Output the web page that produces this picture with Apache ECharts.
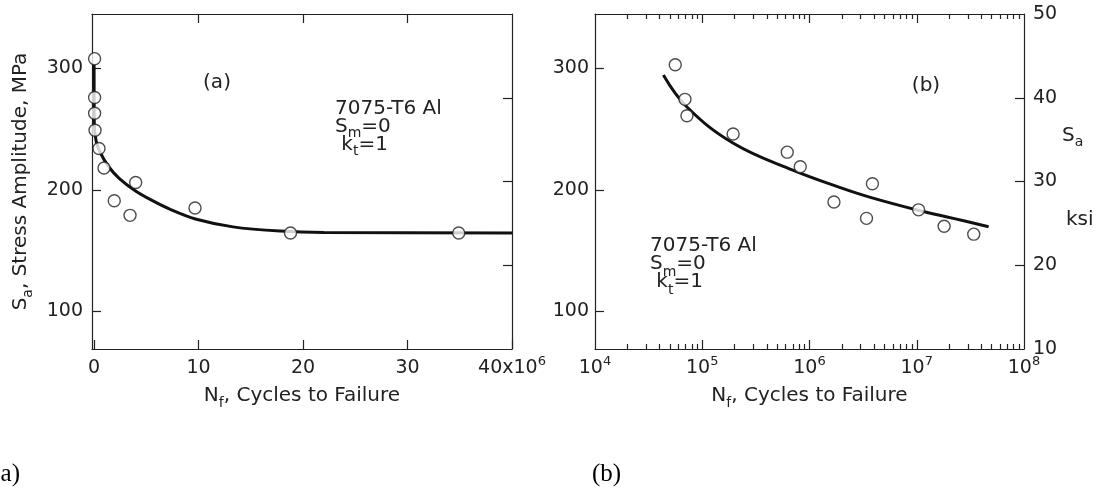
<!DOCTYPE html>
<html>
<head>
<meta charset="utf-8">
<script src="https://cdn.jsdelivr.net/npm/echarts@6.0.0/dist/echarts.min.js"></script>
<style>
  html, body { margin: 0; padding: 0; background: #fff; }
  #chart { width: 1100px; height: 488px; }
</style>
</head>
<body>
<div id="chart"></div>
<script>
// (a) linear N axis, cycles in units of 10^6
var cyclesA = [0.05, 0.05, 0.05, 0.09, 0.47, 0.95, 1.93, 3.44, 3.98, 9.66, 18.8, 34.9];
var stressA = [308, 276, 263, 249, 234, 218, 191, 179, 206, 185, 164.5, 164.5];
var curveAX = [0.0, 0.02, 0.2, 0.6, 1.4, 2.4, 3.9, 5.5, 7.4, 9.7, 13.3, 17.8, 22, 40];
var curveAY = [302.7, 254, 240, 230.5, 219, 209.5, 199.5, 191.5, 183.5, 176, 169.5, 166, 164.8, 164.5];

// (b) log N axis, cycles
var cyclesB = [5.6e4, 6.9e4, 7.2e4, 1.94e5, 6.2e5, 8.2e5, 1.69e6, 3.4e6, 3.86e6, 1.04e7, 1.8e7, 3.4e7];
var stressB = [303, 274.5, 261, 246, 231, 219, 190, 176.5, 205, 183.5, 170, 163.5];
var curveBX = [4.34e4, 7.16e4, 1.95e5, 7.08e5, 1.91e6, 3.63e6, 1.05e7, 2.19e7, 4.68e7];
var curveBY = [294.5, 268.4, 238.3, 216, 202, 194, 183, 176.5, 169.6];

// ticks
var ticksMPa = [100, 200, 300];
var ticksKsi = [10, 20, 30, 40, 50];
var innerKsi = [20, 30, 40];
var ticksLinN = [0, 10, 20, 30, 40];
var innerLinN = [10, 20, 30];
var ticksLogN = [1e4, 1e5, 1e6, 1e7, 1e8];
var innerLogN = [1e5, 1e6, 1e7];
var minorLogN = [2e4, 3e4, 4e4, 5e4, 6e4, 7e4, 8e4, 9e4,
                 2e5, 3e5, 4e5, 5e5, 6e5, 7e5, 8e5, 9e5,
                 2e6, 3e6, 4e6, 5e6, 6e6, 7e6, 8e6, 9e6,
                 2e7, 3e7, 4e7, 5e7, 6e7, 7e7, 8e7, 9e7];

// ksi range 10..50 expressed in MPa
var mpaMin = 10 * 6.895;
var mpaMax = 50 * 6.895;

var FONT = 'DejaVu Sans';
var INK = '#222';

function zip(xs, ys) {
  return xs.map(function (x, i) { return [x, ys[i]]; });
}

var labelRich = {
  n: { fontSize: 19, lineHeight: 19, padding: [4, 0, 0, 0], verticalAlign: 'top', color: INK, fontFamily: FONT },
  sup: { fontSize: 13, lineHeight: 13, verticalAlign: 'top', color: INK, fontFamily: FONT }
};
var nameRich = {
  n: { fontSize: 20, lineHeight: 20, padding: [0, 0, 4, 0], verticalAlign: 'bottom', color: INK, fontFamily: FONT },
  sub: { fontSize: 14, lineHeight: 12, verticalAlign: 'bottom', color: INK, fontFamily: FONT }
};

function annRich(pad) {
  return {
    n: { fontSize: 20, lineHeight: 18, padding: [0, 0, pad, 0], verticalAlign: 'bottom', fill: INK, fontFamily: FONT },
    s: { fontSize: 14, lineHeight: 10, verticalAlign: 'bottom', fill: INK, fontFamily: FONT }
  };
}

var axisLine = { show: true, onZero: false, lineStyle: { color: INK, width: 1.2 } };

function tick(len, vals) {
  return { show: true, inside: true, length: len, customValues: vals, lineStyle: { color: INK, width: 1.2 } };
}

function noLabel() { return { show: false }; }

var myChart = echarts.init(document.getElementById('chart'));

var option = {
  animation: false,
  backgroundColor: '#fff',
  grid: [
    { left: 92, top: 14, width: 420, height: 335, outerBoundsMode: 'none', containLabel: false },
    { left: 595, top: 14, width: 429, height: 335, outerBoundsMode: 'none', containLabel: false }
  ],
  xAxis: [
    {
      gridIndex: 0, type: 'value', position: 'bottom', min: -0.2, max: 40,
      axisLine: axisLine, axisTick: tick(9, ticksLinN), splitLine: { show: false },
      axisLabel: {
        customValues: ticksLinN, margin: 6, rich: labelRich,
        formatter: function (v) { return v === 40 ? '{n|40x10}{sup|6}' : '{n|' + v + '}'; }
      },
      name: '{n|N}{sub|f}{n|, Cycles to Failure}', nameLocation: 'middle', nameGap: 41,
      nameTextStyle: { rich: nameRich }
    },
    {
      gridIndex: 0, type: 'value', position: 'top', min: -0.2, max: 40,
      axisLine: axisLine, axisTick: tick(9, innerLinN), axisLabel: noLabel(), splitLine: { show: false }
    },
    {
      gridIndex: 1, type: 'log', logBase: 10, position: 'bottom', min: 1e4, max: 1e8,
      axisLine: axisLine, axisTick: tick(9, innerLogN), splitLine: { show: false },
      axisLabel: {
        customValues: ticksLogN, margin: 6, rich: labelRich,
        formatter: function (v) { return '{n|10}{sup|' + Math.round(Math.log10(v)) + '}'; }
      },
      name: '{n|N}{sub|f}{n|, Cycles to Failure}', nameLocation: 'middle', nameGap: 41,
      nameTextStyle: { rich: nameRich }
    },
    {
      gridIndex: 1, type: 'log', logBase: 10, position: 'bottom', min: 1e4, max: 1e8,
      axisLine: { show: false }, axisTick: tick(5, minorLogN), axisLabel: noLabel(), splitLine: { show: false }
    },
    {
      gridIndex: 1, type: 'log', logBase: 10, position: 'top', min: 1e4, max: 1e8,
      axisLine: axisLine, axisTick: tick(9, innerLogN), axisLabel: noLabel(), splitLine: { show: false }
    },
    {
      gridIndex: 1, type: 'log', logBase: 10, position: 'top', min: 1e4, max: 1e8,
      axisLine: { show: false }, axisTick: tick(5, minorLogN), axisLabel: noLabel(), splitLine: { show: false }
    }
  ],
  yAxis: [
    {
      gridIndex: 0, type: 'value', position: 'left', min: mpaMin, max: mpaMax,
      axisLine: axisLine, axisTick: tick(9, ticksMPa), splitLine: { show: false },
      axisLabel: { customValues: ticksMPa, margin: 9, fontSize: 19, color: INK, fontFamily: FONT },
      name: '{n|S}{sub|a}{n|, Stress Amplitude, MPa}', nameLocation: 'middle', nameRotate: 90, nameGap: 57,
      nameTextStyle: { rich: nameRich }
    },
    {
      gridIndex: 0, type: 'value', position: 'right', min: 10, max: 50,
      axisLine: axisLine, axisTick: tick(9, innerKsi), axisLabel: noLabel(), splitLine: { show: false }
    },
    {
      gridIndex: 1, type: 'value', position: 'left', min: mpaMin, max: mpaMax,
      axisLine: axisLine, axisTick: tick(9, ticksMPa), splitLine: { show: false },
      axisLabel: { customValues: ticksMPa, margin: 6, fontSize: 19, color: INK, fontFamily: FONT }
    },
    {
      gridIndex: 1, type: 'value', position: 'right', min: 10, max: 50,
      axisLine: axisLine, axisTick: tick(9, innerKsi), splitLine: { show: false },
      axisLabel: { customValues: ticksKsi, margin: 9, fontSize: 19, color: INK, fontFamily: FONT }
    }
  ],
  series: [
    {
      type: 'line', xAxisIndex: 0, yAxisIndex: 0, data: zip(curveAX, curveAY),
      smooth: 0.3, showSymbol: false, symbol: 'none',
      lineStyle: { color: '#111', width: 3 }, silent: true
    },
    {
      type: 'scatter', xAxisIndex: 0, yAxisIndex: 0, data: zip(cyclesA, stressA), z: 3,
      symbol: 'circle', symbolSize: 12,
      itemStyle: { color: '#fff', borderColor: '#222', borderWidth: 1.4 }
    },
    {
      type: 'line', xAxisIndex: 2, yAxisIndex: 2, data: zip(curveBX, curveBY),
      smooth: 0.4, showSymbol: false, symbol: 'none',
      lineStyle: { color: '#111', width: 3 }, silent: true
    },
    {
      type: 'scatter', xAxisIndex: 2, yAxisIndex: 2, data: zip(cyclesB, stressB), z: 3,
      symbol: 'circle', symbolSize: 12,
      itemStyle: { color: '#fff', borderColor: '#222', borderWidth: 1.4 }
    }
  ],
  graphic: [
    { type: 'text', x: 217, y: 83, style: { text: '(a)', fontSize: 20, fontFamily: FONT, fill: INK, align: 'center', verticalAlign: 'middle' } },
    { type: 'text', x: 926, y: 86, style: { text: '(b)', fontSize: 20, fontFamily: FONT, fill: INK, align: 'center', verticalAlign: 'middle' } },
    { type: 'text', x: 335, y: 104, style: { text: '{n|7075-T6 Al}\n{n|S}{s|m}{n|=0}\n{n| k}{s|t}{n|=1}', rich: annRich(3), align: 'left', verticalAlign: 'top' } },
    { type: 'text', x: 650, y: 243, style: { text: '{n|7075-T6 Al}\n{n|S}{s|m}{n|=0}\n{n| k}{s|t}{n|=1}', rich: annRich(5), align: 'left', verticalAlign: 'top' } },
    { type: 'text', x: 1062, y: 131, style: { text: '{n|S}{s|a}', rich: annRich(3), align: 'left', verticalAlign: 'top' } },
    { type: 'text', x: 1066, y: 220, style: { text: 'ksi', fontSize: 20, fontFamily: FONT, fill: INK, align: 'left', verticalAlign: 'middle' } },
    { type: 'text', x: 20, y: 474, style: { text: '(a)', fontSize: 25, fontFamily: 'Liberation Serif', fill: '#000', align: 'right', verticalAlign: 'middle' } },
    { type: 'text', x: 592, y: 474, style: { text: '(b)', fontSize: 25, fontFamily: 'Liberation Serif', fill: '#000', align: 'left', verticalAlign: 'middle' } }
  ]
};

myChart.setOption(option);
</script>
</body>
</html>
